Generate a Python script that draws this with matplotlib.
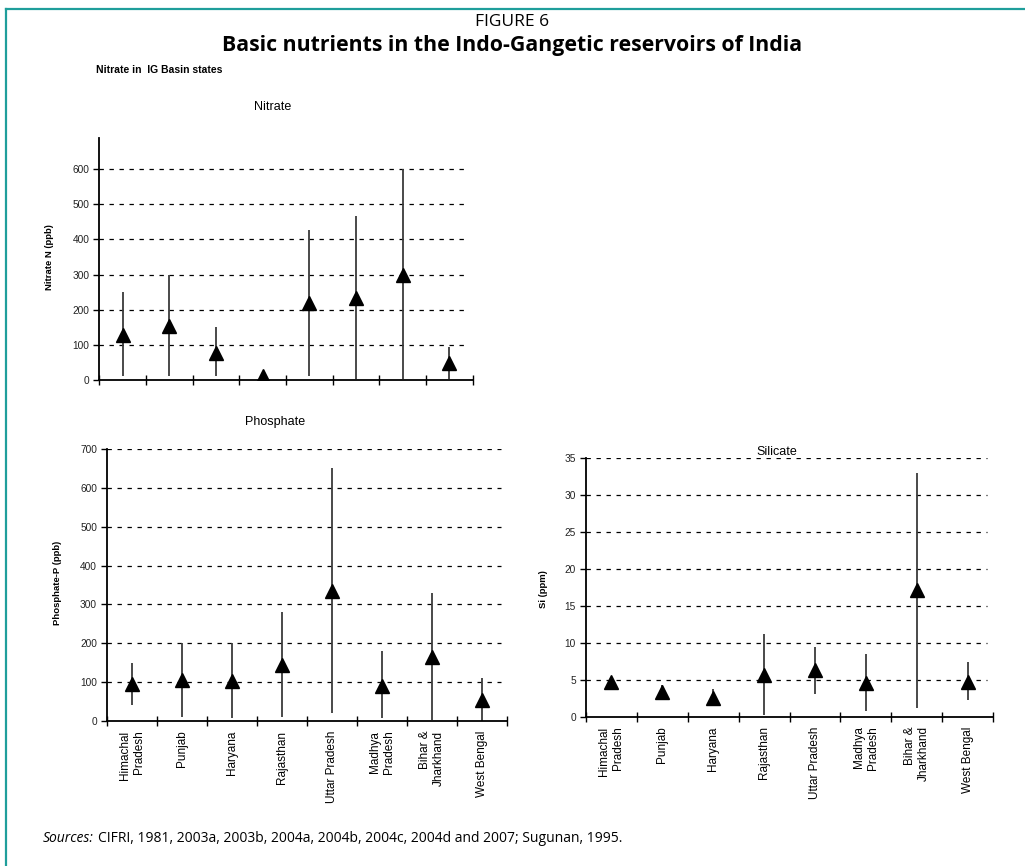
import matplotlib
matplotlib.use("Agg")
import matplotlib.pyplot as plt
from matplotlib.lines import Line2D
import numpy as np

states = ["Himachal\nPradesh", "Punjab", "Haryana", "Rajasthan", "Uttar Pradesh",
          "Madhya\nPradesh", "Bihar &\nJharkhand", "West Bengal"]

# nitrate (ppb): mean, min, max
nitrate_mean = [128, 153, 78, 10, 218, 234, 300, 47]
nitrate_min = [10, 10, 10, 5, 10, 3, 3, 3]
nitrate_max = [250, 300, 150, 15, 428, 466, 600, 95]

# phosphate (ppb)
phos_mean = [94, 105, 102, 144, 335, 91, 165, 54]
phos_min = [40, 11, 7, 11, 20, 7, 2, 0]
phos_max = [150, 200, 200, 280, 650, 180, 330, 110]

# silicate (ppm)
si_mean = [4.7, 3.3, 2.6, 5.7, 6.3, 4.5, 17.2, 4.7]
si_min = [4.5, 2.6, 1.5, 0.2, 3.1, 0.8, 1.2, 2.2]
si_max = [5.0, 4.3, 3.7, 11.2, 9.4, 8.5, 33.0, 7.4]

ARIAL = "Liberation Sans"
FRUT = "Open Sans"

fig = plt.figure(figsize=(10.25, 8.66), dpi=100)
W, H = 1025.0, 866.0


def fx(px):
    return px / W


def fy(py):
    return 1 - py / H


def panel(rect, mean, lo, hi, yticks, ytop, labels=True):
    ax = fig.add_axes(rect)
    x = np.arange(len(mean))
    ax.set_xlim(-0.5, len(mean) - 0.5)
    ax.set_ylim(0, ytop)
    ax.hlines(yticks[1:], -0.5, len(mean) - 0.62, colors="black",
              linestyles=(0, (3.5, 4.5)), linewidth=0.9, zorder=1)
    ax.vlines(x, lo, hi, colors="#3a3a3a", linewidth=1.3, zorder=2)
    ax.plot(x, mean, linestyle="none", marker="^", color="black",
            markersize=10, zorder=3)
    ax.spines["top"].set_visible(False)
    ax.spines["right"].set_visible(False)
    ax.spines["left"].set_linewidth(1.3)
    ax.spines["bottom"].set_linewidth(1.3)
    ax.set_yticks(yticks)
    ax.set_yticklabels([str(t) for t in yticks], fontsize=7.3, family=ARIAL, color="#222")
    ax.tick_params(axis="y", direction="out", length=4, width=1, pad=3)
    ax.set_xticks(np.arange(-0.5, len(mean) + 0.5, 1.0))
    ax.set_xticklabels([])
    ax.tick_params(axis="x", direction="inout", length=7, width=1)
    if labels:
        ax.set_xticks(x, minor=True)
        ax.set_xticklabels(states, minor=True, rotation=90, fontsize=8.5,
                           family=ARIAL, ha="center", va="top", multialignment="right")
        ax.tick_params(axis="x", which="minor", length=0, pad=7)
    return ax


# nitrate
panel([fx(99.3), fy(380), fx(373.4), (380 - 137.5) / H], nitrate_mean, nitrate_min,
      nitrate_max, [0, 100, 200, 300, 400, 500, 600], 690, labels=False)
# phosphate
panel([fx(106.7), fy(721), fx(400.6), 272 / H], phos_mean, phos_min, phos_max,
      [0, 100, 200, 300, 400, 500, 600, 700], 700)
# silicate
panel([fx(585.7), fy(716.7), fx(407.6), 258.4 / H], si_mean, si_min, si_max,
      [0, 5, 10, 15, 20, 25, 30, 35], 35)

# y labels
fig.text(fx(50), fy(257), "Nitrate N (ppb)", rotation=90, fontsize=6.8, weight="bold",
         family=ARIAL, ha="center", va="center")
fig.text(fx(57), fy(583), "Phosphate-P (ppb)", rotation=90, fontsize=6.8, weight="bold",
         family=ARIAL, ha="center", va="center")
fig.text(fx(543), fy(589), "Si (ppm)", rotation=90, fontsize=6.8, weight="bold",
         family=ARIAL, ha="center", va="center")

# panel titles
fig.text(fx(273), fy(107), "Nitrate", fontsize=9, family=ARIAL, ha="center", va="center")
fig.text(fx(275), fy(422), "Phosphate", fontsize=9, family=ARIAL, ha="center", va="center")
fig.text(fx(777), fy(452), "Silicate", fontsize=9, family=ARIAL, ha="center", va="center")
fig.text(fx(96), fy(70), "Nitrate in  IG Basin states", fontsize=7.5, weight="bold",
         family=ARIAL, ha="left", va="center")

# figure headings
fig.text(0.5, fy(22), "FIGURE 6", fontsize=12.5, family=FRUT, ha="center", va="center")
fig.text(0.5, fy(45), "Basic nutrients in the Indo-Gangetic reservoirs of India",
         fontsize=15.3, weight="bold", family=FRUT, ha="center", va="center")

# source line: italic label followed by plain text
t = fig.text(fx(43), fy(838), "Sources:", fontsize=10, style="italic", family=FRUT,
             ha="left", va="center")
fig.canvas.draw()
bb = t.get_window_extent()
fig.text(fx(bb.x1 + 4), fy(838),
         "CIFRI, 1981, 2003a, 2003b, 2004a, 2004b, 2004c, 2004d and 2007; Sugunan, 1995.",
         fontsize=10, family=FRUT, ha="left", va="center")

# teal frame (left and top edges)
frame_col = "#1f9e9b"
fig.add_artist(Line2D([fx(6), fx(6)], [0, fy(9)], color=frame_col, linewidth=1.6))
fig.add_artist(Line2D([fx(6), 1], [fy(9), fy(9)], color=frame_col, linewidth=1.6))

fig.savefig("out.png", dpi=100)
